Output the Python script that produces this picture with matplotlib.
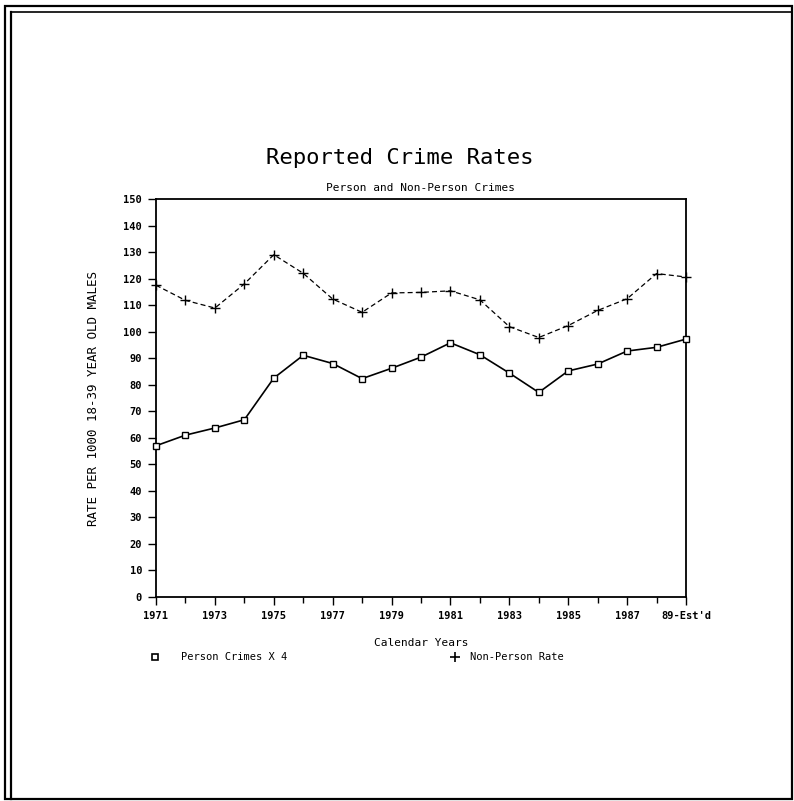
import matplotlib
matplotlib.use("Agg")
import matplotlib.pyplot as plt
from matplotlib.lines import Line2D
from matplotlib.patches import Rectangle

years = list(range(1971, 1990))
person_x4 = [57, 61, 63.7, 66.8, 82.5, 91.1, 88, 82.3, 86.2, 90.4, 95.8, 91.3,
             84.4, 77.1, 85.2, 87.8, 92.7, 94.1, 97.2]
non_person = [117.5, 111.8, 108.9, 118, 129, 122, 112.3, 107.3, 114.6, 114.8,
              115.4, 112, 101.9, 97.8, 102.3, 108, 112.4, 121.9, 120.6]
label_years = [1971, 1973, 1975, 1977, 1979, 1981, 1983, 1985, 1987, 1989]
label_text = ["1971", "1973", "1975", "1977", "1979", "1981", "1983", "1985", "1987", "89-Est'd"]
y_ticks = list(range(0, 151, 10))

title = "Reported Crime Rates"
subtitle = "Person and Non-Person Crimes"
ylabel = "RATE PER 1000 18-39 YEAR OLD MALES"
xlabel = "Calendar Years"
series_names = ["Person Crimes X 4", "Non-Person Rate"]

plt.rcParams['font.family'] = ['DejaVu Sans Mono', 'DejaVu Sans']

fig = plt.figure(figsize=(7.94, 8.01), dpi=100)
ax = fig.add_axes([156 / 794, 1 - 597 / 801, 530 / 794, 398 / 801])

ax.plot(years, person_x4, color='black', lw=1.2, marker='s', ms=5,
        mfc='white', mec='black', mew=1.0, clip_on=False, zorder=3)
ax.plot(years, non_person, color='black', lw=0.9, ls=(0, (4, 2.5)), marker='+',
        ms=7, mew=1.0, clip_on=False, zorder=3)

ax.set_xlim(1971, 1989)
ax.set_ylim(0, 150)
ax.set_xticks(years, minor=True)
ax.set_xticks(label_years)
ax.set_xticklabels(label_text, fontsize=7.5, fontweight='bold')
ax.set_yticks(y_ticks)
ax.set_yticklabels([str(v) for v in y_ticks], fontsize=7.5, fontweight='bold')
ax.tick_params(axis='both', which='major', direction='out', length=6, width=1.0, pad=4)
ax.tick_params(axis='x', which='minor', direction='out', length=4, width=1.0)
for s in ax.spines.values():
    s.set_linewidth(1.3)

ax.set_ylabel(ylabel, fontsize=9, labelpad=17)
ax.set_xlabel(xlabel, fontsize=8, labelpad=12)

fig.text(0.504, 1 - 158 / 801, title, fontsize=16, ha='center', va='center')
ax.set_title(subtitle, fontsize=8, pad=6)

# legend (drawn as keys + texts)
leg_y = 1 - 657 / 801
fig.add_artist(Line2D([155 / 794], [leg_y], transform=fig.transFigure, ls='none',
                      marker='s', ms=5, mfc='white', mec='black', mew=1.2))
fig.text(181 / 794, leg_y, series_names[0], fontsize=7.5, ha='left', va='center')
fig.add_artist(Line2D([455 / 794], [leg_y], transform=fig.transFigure, ls='none',
                      marker='+', ms=7, mec='black', mew=1.2))
fig.text(470 / 794, leg_y, series_names[1], fontsize=7.5, ha='left', va='center')

# page border
fig.add_artist(Rectangle((5 / 794, 2 / 801), 787 / 794, 793 / 801, transform=fig.transFigure,
                         fill=False, lw=1.6, ec='black'))
fig.add_artist(Line2D([11 / 794, 11 / 794], [2 / 801, 1 - 12 / 801], transform=fig.transFigure,
                      color='black', lw=1.6))
fig.add_artist(Line2D([11 / 794, 792 / 794], [1 - 12 / 801, 1 - 12 / 801], transform=fig.transFigure,
                      color='black', lw=1.2))

fig.savefig("out.png", dpi=100, facecolor='white')
